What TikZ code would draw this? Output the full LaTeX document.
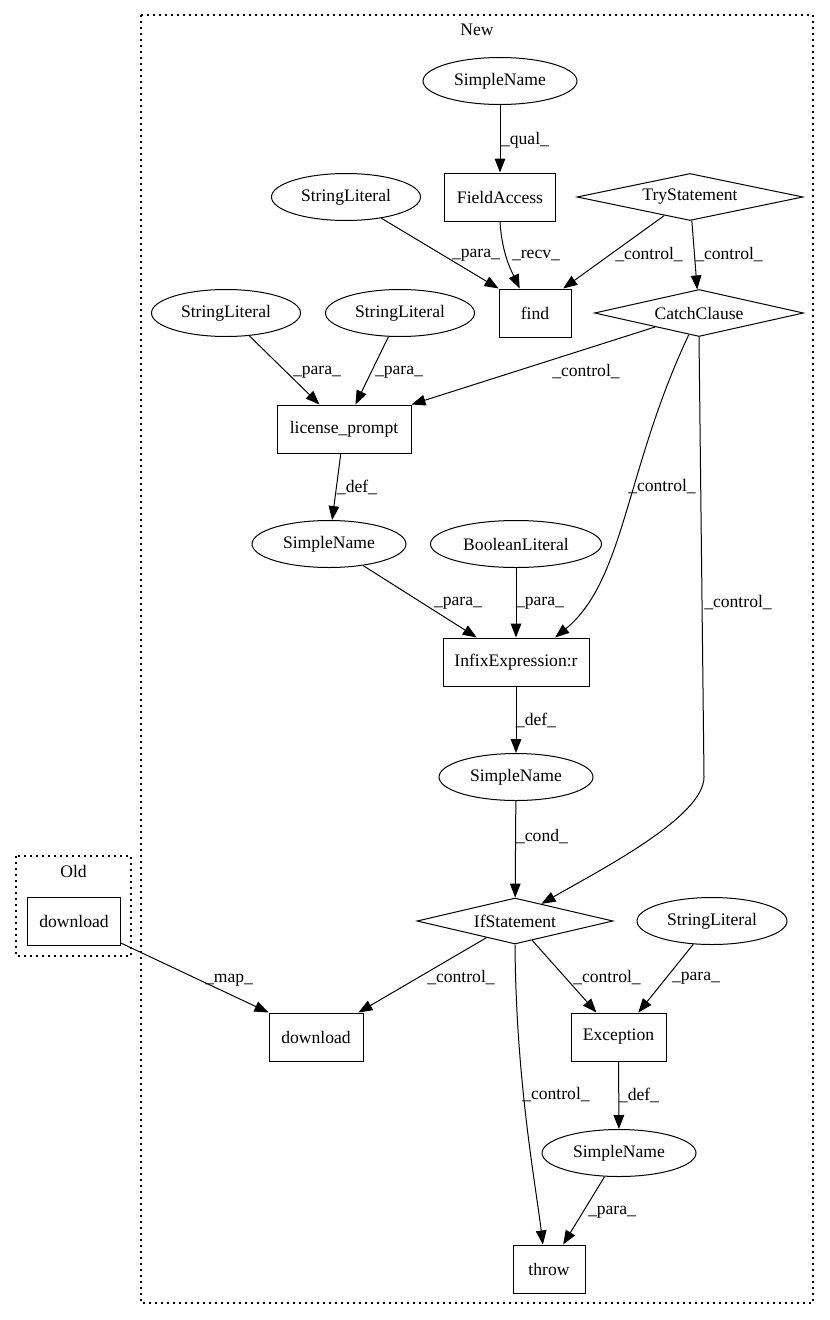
\documentclass[tikz,border=0pt]{standalone}
\usepackage{fontspec}
\setmainfont{Liberation Serif}
\usetikzlibrary{arrows.meta, shapes.geometric}

\begin{document}
\begin{tikzpicture}[
  x=0.75pt, y=-0.75pt,
  every node/.style={font=\fontsize{13.2pt}{15pt}\selectfont},
  ell/.style={draw, ellipse, line width=0.75pt, inner sep=0pt, minimum height=35.25pt},
  box/.style={draw, rectangle, line width=0.75pt, inner sep=0pt, minimum height=36pt},
  dia/.style={draw, diamond, aspect=4.7, line width=0.75pt, inner sep=0pt, minimum height=35.25pt},
  lbl/.style={inner sep=0pt},
  ar/.style={-{Triangle[length=10.5pt, width=8pt]}, line width=0.75pt},
  clus/.style={draw, line width=0.8pt, dash pattern=on 1.2pt off 3.3pt}
]
\useasboundingbox (0,0) rectangle (829,1320);

% clusters
\draw[clus] (141,15) rectangle (813,1303);
\node (newlbl) at (477,30) {New};
\draw[clus] (16,856) rectangle (131,956);
\node (oldlbl) at (73.5,871) {Old};

\node[ell, minimum width=115.5pt] (sn1) at (500,81) {SimpleName};
\node[box, minimum width=83.25pt] (fa) at (500,197) {FieldAccess};
\node[ell, minimum width=111.75pt] (sl1) at (346,197) {StringLiteral};
\node[dia, minimum width=169.5pt] (try) at (690,197) {TryStatement};
\node[box, minimum width=54pt] (find) at (535,313) {find};
\node[dia, minimum width=156.75pt] (catch) at (699,313) {CatchClause};
\node[ell, minimum width=111.75pt] (sl2) at (226,313) {StringLiteral};
\node[ell, minimum width=111.75pt] (sl3) at (400,313) {StringLiteral};
\node[box, minimum width=100.5pt] (lp) at (344,429) {license\_prompt};
\node[ell, minimum width=115.5pt] (sn2) at (329,544) {SimpleName};
\node[ell, minimum width=128.25pt] (bool) at (516,544) {BooleanLiteral};
\node[box, minimum width=109.5pt] (infix) at (516,662) {InfixExpression:r};
\node[ell, minimum width=115.5pt] (sn3) at (516,777) {SimpleName};
\node[dia, minimum width=147pt, minimum height=34.5pt] (ifs) at (515,921) {IfStatement};
\node[ell, minimum width=112.5pt] (sl4) at (712,921) {StringLiteral};
\node[box, minimum width=70pt] (dlold) at (74,921) {download};
\node[box, minimum width=70.5pt] (dlnew) at (316,1037) {download};
\node[box, minimum width=71.25pt] (exc) at (618.5,1037) {Exception};
\node[ell, minimum width=115.5pt] (sn4) at (619,1153) {SimpleName};
\node[box, minimum width=54pt] (throw) at (549,1269) {throw};

\draw[ar] (sn1) -- (fa) node[lbl] at (525,140) {\_qual\_};
\draw[ar] (sl1) -- (find.north west) node[lbl] at (476,255) {\_para\_};
\draw[ar] (fa.south) .. controls (502,255) and (512,272) .. (find.122) node[lbl] at (536,255) {\_recv\_};
\draw[ar] (try) -- (find.41) node[lbl] at (649,255) {\_control\_};
\draw[ar] (try) -- (catch) node[lbl] at (729,255) {\_control\_};
\draw[ar] (sl2) -- (lp.135) node[lbl] at (317,372) {\_para\_};
\draw[ar] (sl3) -- (lp.65) node[lbl] at (399,372) {\_para\_};
\draw[ar] (catch) -- (lp.north east) node[lbl] at (586,372) {\_control\_};
\draw[ar] (lp) -- (sn2) node[lbl] at (357,487) {\_def\_};
\draw[ar] (catch) .. controls (625,470) and (625,580) .. (infix.32) node[lbl] at (662,487) {\_control\_};
\draw[ar] (sn2) -- (infix.148) node[lbl] at (458,603) {\_para\_};
\draw[ar] (bool) -- (infix) node[lbl] at (540,603) {\_para\_};
\draw[ar] (catch.south) -- ++(5,440) .. controls +(0,40) and (600,870) .. (ifs.33) node[lbl] at (738,603) {\_control\_};
\draw[ar] (infix) -- (sn3) node[lbl] at (536,720) {\_def\_};
\draw[ar] (sn3) -- (ifs) node[lbl] at (542,837) {\_cond\_};
\draw[ar] (dlold) -- (dlnew.north west) node[lbl] at (229,980) {\_map\_};
\draw[ar] (ifs) -- (dlnew.30) node[lbl] at (461,978) {\_control\_};
\draw[ar] (ifs) -- (exc.132) node[lbl] at (607,978) {\_control\_};
\draw[ar] (sl4) -- (exc.51) node[lbl] at (696,978) {\_para\_};
\draw[ar] (ifs.south) .. controls (516,1080) and (535,1180) .. (throw.104) node[lbl] at (556,1095) {\_control\_};
\draw[ar] (exc) -- (sn4) node[lbl] at (639,1095) {\_def\_};
\draw[ar] (sn4) -- (throw.60) node[lbl] at (612,1212) {\_para\_};
\end{tikzpicture}
\end{document}
